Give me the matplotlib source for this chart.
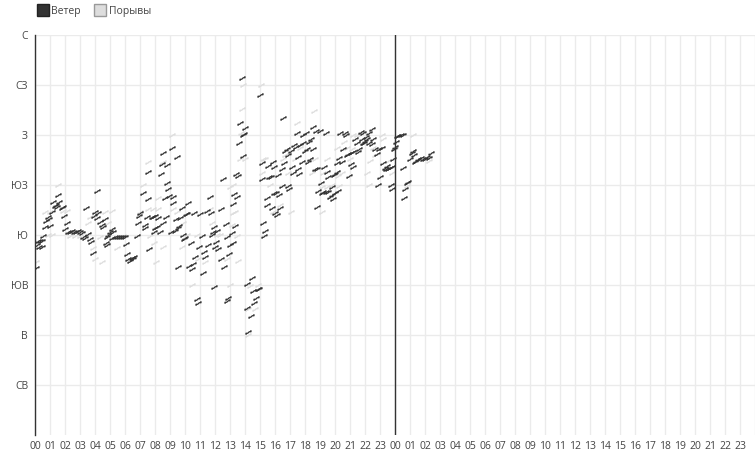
import matplotlib
matplotlib.use("Agg")
import matplotlib.pyplot as plt
from matplotlib.path import Path
from matplotlib.lines import Line2D

plt.rcParams['font.family'] = ['Open Sans', 'DejaVu Sans']

# direction labels (degrees), top to bottom
dir_deg = [360, 315, 270, 225, 180, 135, 90, 45]
dir_names = ['С', 'СЗ', 'З', 'ЮЗ', 'Ю', 'ЮВ', 'В', 'СВ']

# wind direction: hours since start of day 1, degrees
wind_t = [0.07, 0.13, 0.2, 0.27, 0.33, 0.47, 0.47, 0.53, 0.67, 0.73, 0.87, 0.93, 1.0,
          1.13, 1.2, 1.33, 1.4, 1.47, 1.53, 1.6, 1.8, 1.87, 1.9, 2.0, 2.13,
          2.2, 2.33, 2.47, 2.6, 2.73, 2.87, 3.0, 3.13,
          3.2, 3.33, 3.4, 3.53, 3.67, 3.73, 3.87, 3.9, 4.0, 4.13, 4.15, 4.2, 4.33,
          4.47, 4.53, 4.67, 4.7, 4.8, 4.83, 4.87, 5.0, 5.13, 5.15, 5.2,
          5.33, 5.47, 5.6, 5.73, 5.87, 6.0,
          6.07, 6.13, 6.2, 6.33, 6.47, 6.53, 6.6, 6.8, 6.87, 6.93, 7.0, 7.2,
          7.33, 7.35, 7.47, 7.5, 7.53, 7.6, 7.8, 7.87, 7.9, 8.0, 8.03, 8.13, 8.2,
          8.33, 8.4, 8.47, 8.53, 8.55, 8.67, 8.73, 8.8, 8.83, 8.87, 8.93, 9.07,
          9.13, 9.2, 9.22, 9.33, 9.4, 9.47, 9.5, 9.53, 9.6, 9.67, 9.8, 9.87, 9.93,
          10.0, 10.07, 10.13, 10.2, 10.27, 10.4, 10.47, 10.53, 10.6, 10.67, 10.8,
          10.87, 10.9, 11.0, 11.13, 11.2, 11.27, 11.33, 11.47, 11.53, 11.67, 11.73,
          11.8, 11.87, 11.9, 11.93, 12.0, 12.07, 12.13, 12.2, 12.4, 12.42, 12.53,
          12.6, 12.73, 12.8, 12.82, 12.87, 12.93, 13.0, 13.13, 13.2, 13.22, 13.27,
          13.33, 13.4, 13.47, 13.53, 13.6, 13.67, 13.8, 13.87, 13.88, 13.93, 14.0,
          14.13, 14.15, 14.2, 14.4, 14.47, 14.53, 14.6, 14.73, 14.87, 14.93, 15.0,
          15.13, 15.15, 15.2, 15.27, 15.33, 15.47, 15.48, 15.53, 15.6, 15.73, 15.8,
          15.87, 15.93, 15.95, 16.0, 16.07, 16.13, 16.2, 16.27, 16.33, 16.47, 16.48,
          16.53, 16.6, 16.67, 16.8, 16.87, 16.88, 16.93, 17.07, 17.13, 17.2, 17.27,
          17.4, 17.47, 17.53, 17.55, 17.6, 17.67, 17.8, 17.87, 17.88, 18.0, 18.07,
          18.13, 18.2, 18.27, 18.33, 18.4, 18.53, 18.55, 18.67, 18.73, 18.8, 18.82,
          18.87, 19.0, 19.07, 19.13, 19.2, 19.27, 19.4, 19.42, 19.47, 19.53, 19.55,
          19.67, 19.8, 19.82, 19.87, 19.93, 20.0, 20.02, 20.13, 20.15, 20.2, 20.27,
          20.33, 20.47, 20.53, 20.67, 20.73, 20.8, 20.87, 20.93, 21.07, 21.08, 21.2,
          21.22, 21.33, 21.47, 21.53, 21.6, 21.73, 21.8, 21.87, 21.88, 21.93, 22.0,
          22.07, 22.13, 22.27, 22.28, 22.47, 22.48, 22.53, 22.67, 22.8, 22.87, 22.93,
          23.0, 23.13, 23.2, 23.33, 23.4, 23.47, 23.53, 23.67, 23.73, 23.8, 23.82,
          23.87, 23.93, 24.0, 24.07, 24.13, 24.2, 24.4, 24.53, 24.55, 24.6, 24.67,
          24.8, 24.87, 25.0, 25.13, 25.2, 25.27, 25.33, 25.4, 25.53, 25.73, 25.87,
          26.0, 26.13, 26.27, 26.4]
wind_dir = [150, 171, 175, 169, 175, 175, 169, 179, 187, 193, 196, 194, 188,
            201, 210, 206, 207, 205, 216, 210, 204, 205, 197, 185, 191,
            183, 183, 184, 183, 183, 184, 183, 182,
            178, 177, 204, 181, 176, 174, 164, 197, 201, 220, 195, 200, 192,
            189, 187, 194, 173, 178, 171, 180, 183, 185, 177, 183,
            178, 178, 178, 178, 178, 178,
            172, 163, 158, 157, 159, 158, 160, 179, 191, 197, 200, 218,
            186, 189, 196, 212, 237, 167, 196, 196, 183, 197, 186, 187, 195,
            183, 235, 244, 254, 191, 213, 196, 243, 227, 221, 215, 183,
            258, 214, 209, 184, 194, 250, 151, 186, 188, 195, 204, 180, 176,
            177, 199, 199, 209, 152, 173, 149, 154, 200, 160, 122,
            119, 169, 199, 179, 146, 165, 160, 202, 171, 214, 200,
            180, 183, 187, 133, 169, 174, 184, 167, 203, 158, 230,
            151, 190, 178, 121, 123, 163, 171, 182, 173, 208, 217,
            188, 235, 214, 233, 263, 281, 321, 270, 251, 271, 276,
            136, 114, 93, 107, 141, 130, 119, 123, 131, 131, 306,
            245, 230, 191, 179, 184, 213, 207, 242, 232, 232, 204,
            246, 241, 218, 200, 218, 198, 234, 216, 204, 239, 224,
            285, 245, 256, 257, 252, 224, 221, 256, 241, 236, 261,
            259, 272, 250, 239, 235, 261, 246, 263, 270, 256, 272,
            257, 246, 264, 248, 266, 277, 257, 239, 274, 239, 205,
            220, 274, 227, 218, 219, 241, 272, 219, 237, 219, 232,
            214, 216, 223, 212, 234, 235, 218, 245, 237, 220, 249,
            272, 246, 257, 272, 270, 252, 253, 233, 254, 244, 255,
            241, 266, 263, 255, 257, 273, 266, 263, 272, 263, 265,
            268, 266, 272, 263, 275, 262, 266, 257, 253, 225, 257,
            232, 258, 245, 240, 239, 242, 239, 240, 225, 241, 221,
            248, 257, 259, 264, 269, 269, 270, 270, 240, 213, 221,
            227, 228, 248, 254, 256, 252, 246, 247, 248, 249, 248,
            248, 250, 249, 254]

# gust direction
gust_t = [0.07, 0.67, 0.87, 1.0, 1.13, 1.53, 1.87, 2.13, 2.33, 2.67, 3.0, 3.53, 3.67,
          3.87, 4.0, 4.33, 4.47, 4.67, 4.87, 5.13, 5.47, 5.67, 5.87, 7.0, 7.2, 7.53,
          7.55, 7.67, 7.87, 7.93, 8.07, 8.2, 8.22, 8.53, 8.55, 9.13, 9.2, 9.47, 9.8,
          9.87, 10.13, 10.47, 10.8, 10.87, 11.33, 11.67, 11.8, 12.13, 12.33, 12.8,
          13.0, 13.02, 13.13, 13.2, 13.22, 13.33, 13.47, 13.53, 13.67, 13.73, 13.8,
          13.87, 14.0, 14.2, 14.22, 14.33, 14.67, 14.87, 15.07, 15.13, 15.2, 15.33,
          15.67, 15.87, 16.33, 16.53, 16.67, 16.87, 17.07, 17.33, 17.47, 17.67, 17.87,
          18.33, 18.47, 18.6, 18.67, 19.13, 19.15, 19.2, 19.47, 19.48, 19.8, 20.13,
          20.2, 20.27, 20.47, 20.6, 20.8, 21.0, 21.13, 21.2, 21.47, 21.67, 22.13,
          22.27, 22.33, 22.53, 22.67, 23.13, 23.2, 23.53, 23.8, 23.82, 24.0, 24.8,
          25.2, 25.4, 25.87, 26.27]
gust_dir = [156, 201, 180, 201, 180, 225, 202, 202, 179, 179, 179, 191, 196,
            168, 158, 178, 156, 201, 191, 202, 168, 178, 179, 201, 225, 246,
            203, 179, 203, 173, 156, 213, 203, 246, 169, 270, 203, 201, 169,
            191, 180, 135, 180, 158, 156, 203, 191, 180, 180, 158,
            135, 223, 189, 200, 225, 201, 179, 157, 248, 272, 293,
            315, 248, 113, 90, 134, 113, 135, 315, 236, 248, 248,
            225, 201, 207, 248, 252, 236, 201, 248, 281, 258, 270,
            248, 236, 292, 248, 223, 201, 236, 248, 223, 225, 258,
            233, 224, 236, 264, 258, 248, 257, 270, 270, 270, 236,
            225, 247, 258, 252, 270, 266, 247, 236, 225, 257, 224,
            270, 247, 248, 247]

# little zigzag glyph used as the marker
zig = Path([(-1.0, -0.9), (-1.0, -0.3), (-0.3, -0.3), (0.3, 0.3), (1.0, 0.3), (1.0, 0.9)],
           [Path.MOVETO] + [Path.LINETO] * 5)

wind_col = '#333333'
gust_col = '#dddddd'

fig = plt.figure(figsize=(7.55, 4.51), dpi=100)
ax = fig.add_axes([35 / 755, 16 / 451, 720 / 755, 400 / 451])

ax.plot(gust_t, gust_dir, linestyle='none', marker=zig, markersize=3.6,
        markeredgewidth=0.9, color=gust_col, zorder=2)
ax.plot(wind_t, wind_dir, linestyle='none', marker=zig, markersize=3.6,
        markeredgewidth=0.9, color=wind_col, zorder=3)

ax.axvline(24, color=wind_col, lw=1, zorder=4)

ax.set_xlim(0, 48)
ax.set_ylim(0, 360)
ax.set_xticks(range(49))
ax.set_xticklabels([f'{h % 24:02d}' if h < 48 else '' for h in range(49)])
ax.set_yticks(dir_deg)
ax.set_yticklabels(dir_names)
ax.tick_params(axis='both', length=0, labelsize=7.5, labelcolor='#444444')
ax.tick_params(axis='x', pad=4)
ax.tick_params(axis='y', pad=5)

ax.grid(True, color='#ebebeb', lw=1, zorder=0)
ax.set_axisbelow(True)
for s in ['top', 'right', 'bottom']:
    ax.spines[s].set_visible(False)
ax.spines['left'].set_color(wind_col)
ax.spines['left'].set_linewidth(1)

handles = [Line2D([], [], linestyle='none', marker='s', markersize=8,
                  markerfacecolor=wind_col, markeredgecolor='#222222', label='Ветер'),
           Line2D([], [], linestyle='none', marker='s', markersize=8,
                  markerfacecolor=gust_col, markeredgecolor='#999999', label='Порывы')]
fig.legend(handles=handles, loc='upper left', bbox_to_anchor=(28 / 755, 1.008), ncol=2,
           frameon=False, fontsize=7.5, handletextpad=0.3, columnspacing=1.4,
           handlelength=1.0, labelcolor='#444444')

fig.savefig('out.png', dpi=100)
